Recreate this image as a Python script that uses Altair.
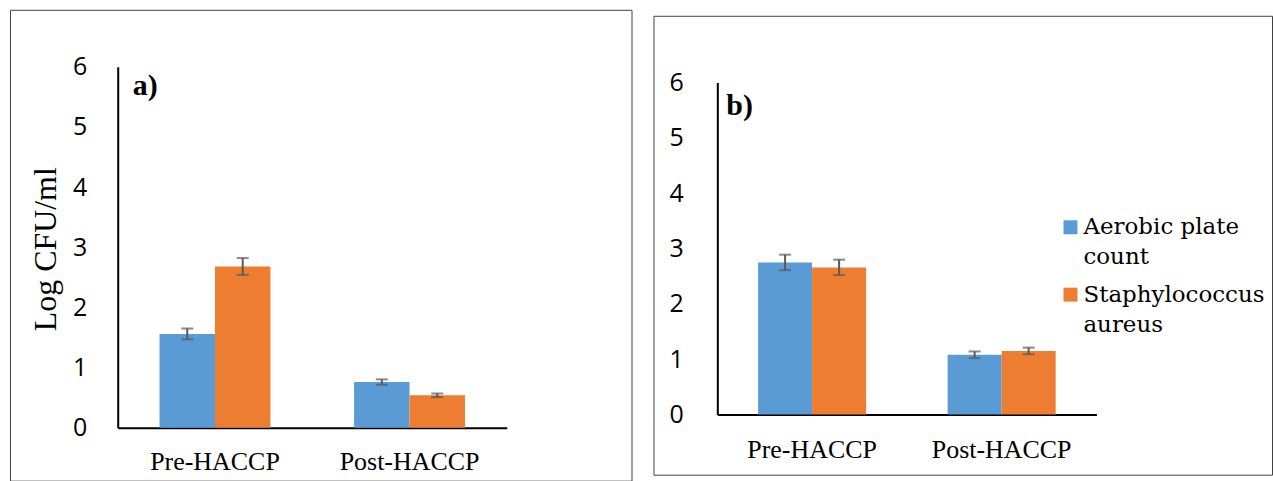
import altair as alt
import pandas as pd

# ---- data ----
categories = ["Pre-HACCP", "Post-HACCP"]
series = ["Aerobic plate count", "Staphylococcus aureus"]

a_apc = [1.56, 0.76]
a_apc_err = [0.09, 0.045]
a_sa = [2.68, 0.54]
a_sa_err = [0.14, 0.03]

b_apc = [2.75, 1.08]
b_apc_err = [0.14, 0.06]
b_sa = [2.66, 1.15]
b_sa_err = [0.14, 0.06]

y_ticks = [0, 1, 2, 3, 4, 5, 6]
colors = ["#5B9BD5", "#ED7D31"]
y_title = "Log CFU/ml"
tags = ["a)", "b)"]

SERIF = "Liberation Serif"
LEG_FONT = "DejaVu Serif"
SANS = "Open Sans"


def make_df(apc, apc_err, sa, sa_err):
    rows = []
    for i, c in enumerate(categories):
        rows.append({"phase": c, "series": series[0], "value": apc[i], "err": apc_err[i]})
        rows.append({"phase": c, "series": series[1], "value": sa[i], "err": sa_err[i]})
    df = pd.DataFrame(rows)
    df["lo"] = df["value"] - df["err"]
    df["hi"] = df["value"] + df["err"]
    return df


# legend table: each series name wrapped at its last space
legend_rows = []
for s in series:
    first, second = s.rsplit(" ", 1)
    legend_rows.append({"series": s, "line1": first, "line2": second})

color = alt.Color("series:N", scale=alt.Scale(domain=series, range=colors), legend=None)


def legend_layers():
    def ys(r0, r1):
        return alt.Y("series:N", scale=alt.Scale(domain=series, range=[r0, r1], padding=0),
                     axis=None, sort=series)
    base = alt.Chart(alt.Data(values=legend_rows))
    sq = base.mark_point(shape="square", filled=True, size=196, opacity=1).encode(
        x=alt.value(418), y=ys(212, 279.5), color=color)
    t1 = base.mark_text(font=LEG_FONT, fontSize=23, fontWeight="normal", color="black",
                        align="left", baseline="alphabetic").encode(
        x=alt.value(431), y=ys(219, 286.5), text="line1:N")
    t2 = base.mark_text(font=LEG_FONT, fontSize=23, fontWeight="normal", color="black",
                        align="left", baseline="alphabetic").encode(
        x=alt.value(431), y=ys(249, 316.5), text="line2:N")
    return [sq, t1, t2]


def panel(df, W, H, x0, x1, y0, y6, ylab_pad, xlab_pad, title, title_x, title_y,
          tag, tag_x, tag_y, with_legend):
    xscale = alt.Scale(domain=categories, range=[x0, x1], paddingInner=0.43, paddingOuter=0.215)
    yscale = alt.Scale(domain=[0, 6], range=[y0, y6], nice=False, zero=True)
    oscale = alt.Scale(domain=series, paddingInner=0, paddingOuter=0)

    xaxis = alt.Axis(title=None, labelAngle=0, ticks=False, domainColor="black", domainWidth=2,
                     labelFont=SERIF, labelFontSize=26, labelColor="black",
                     labelBaseline="alphabetic", labelPadding=xlab_pad, offset=-(H - y0))
    yargs = dict(values=y_ticks, format="d", ticks=False, grid=False, domainColor="black",
                 domainWidth=2, labelFont=SANS, labelFontSize=25, labelColor="black",
                 labelPadding=ylab_pad, offset=-x0)
    if title:
        yaxis = alt.Axis(title=title, titleFont=SERIF, titleFontSize=32, titleFontWeight="normal",
                         titleColor="black", titleX=title_x, titleY=title_y, titleAngle=270,
                         titleAlign="center", titleBaseline="middle", **yargs)
    else:
        yaxis = alt.Axis(title=None, **yargs)

    x = alt.X("phase:N", scale=xscale, axis=xaxis, sort=categories)
    xo = alt.XOffset("series:N", scale=oscale, sort=series)

    base = alt.Chart(df)
    bars = base.mark_bar().encode(
        x=x, xOffset=xo, y=alt.Y("value:Q", scale=yscale, axis=yaxis), color=color)
    rules = base.mark_rule(color="#595959", strokeWidth=2).encode(
        x=x, xOffset=xo, y=alt.Y("lo:Q", scale=yscale, axis=None), y2="hi:Q")
    tlo = base.mark_tick(color="#595959", size=12, thickness=2).encode(
        x=x, xOffset=xo, y=alt.Y("lo:Q", scale=yscale, axis=None))
    thi = base.mark_tick(color="#595959", size=12, thickness=2).encode(
        x=x, xOffset=xo, y=alt.Y("hi:Q", scale=yscale, axis=None))
    lab = alt.Chart(alt.Data(values=[{"t": tag}])).mark_text(
        font=SERIF, fontSize=30, fontWeight="bold", color="black", align="left",
        baseline="alphabetic").encode(x=alt.value(tag_x), y=alt.value(tag_y), text="t:N")
    layers = [bars, rules, tlo, thi, lab]
    if with_legend:
        layers += legend_layers()
    return alt.layer(*layers).resolve_scale(y="independent").properties(width=W, height=H)


dfa = make_df(a_apc, a_apc_err, a_sa, a_sa_err)
dfb = make_df(b_apc, b_apc_err, b_sa, b_sa_err)

pa = panel(dfa, 623, 472, 108, 498, 419, 57, 31, 42, y_title, -72, 239.5,
           tags[0], 123, 85, False)
pb = panel(dfb, 620, 460, 64, 444, 399.7, 67, 34, 43, None, 0, 0,
           tags[1], 73, 99, True)

chart = alt.hconcat(pa, pb, spacing=20, center=True).resolve_scale(
    color="independent", x="independent", y="independent", xOffset="independent"
).properties(
    padding={"left": 9, "top": 8, "right": 0, "bottom": 0}, background="white"
).configure(
    font=SERIF,
    view=alt.ViewConfig(stroke="#404040", strokeWidth=1),
)

chart.save("out.html", embed_options={"renderer": "svg", "actions": False})
